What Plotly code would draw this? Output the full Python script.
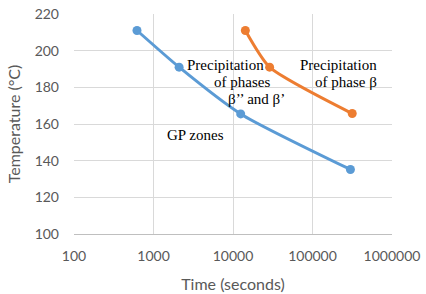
import plotly.graph_objects as go

time_gp = [620, 2100, 12500, 300000]
temp_gp = [211, 191, 165.5, 135.2]
time_beta = [14300, 28900, 316000]
temp_beta = [211, 191, 165.7]

x_ticks = [100, 1000, 10000, 100000, 1000000]
x_tick_labels = ["100", "1000", "10000", "100000", "1000000"]
y_ticks = [100, 120, 140, 160, 180, 200, 220]

blue = "#5B9BD5"
orange = "#ED7D31"

W, H = 426, 294
PL, PR, PT, PB = 74, 392, 13.5, 234


def px(x):
    return (x - PL) / (PR - PL)


def py(y):
    return 1 - (y - PT) / (PB - PT)


fig = go.Figure()
fig.add_trace(go.Scatter(x=time_gp, y=temp_gp, mode="lines+markers",
                         line=dict(color=blue, width=3, shape="spline", smoothing=0.6),
                         marker=dict(color=blue, size=9), showlegend=False))
fig.add_trace(go.Scatter(x=time_beta, y=temp_beta, mode="lines+markers",
                         line=dict(color=orange, width=3, shape="spline", smoothing=0.6),
                         marker=dict(color=orange, size=9), showlegend=False))

serif = dict(family="Liberation Serif", size=15, color="#000000")
labels = [
    ("Precipitation", 186, 65),
    ("of phases", 213, 82),
    ("β’’ and β’", 227, 99),
    ("Precipitation", 299, 65),
    ("of phase β", 314, 82),
    ("GP zones", 166, 135),
]
for txt, lx, ly in labels:
    fig.add_annotation(xref="paper", yref="paper", x=px(lx), y=py(ly), text=txt,
                       showarrow=False, font=serif, xanchor="left", yanchor="middle",
                       borderpad=0)

axis_font = dict(family="Lato", size=14, color="#595959")
title_font = dict(family="Lato", size=16, color="#595959")
fig.update_xaxes(type="log", range=[2, 6], tickvals=x_ticks, ticktext=x_tick_labels,
                 showgrid=True, gridcolor="#D9D9D9", gridwidth=1,
                 showline=True, linecolor="#BFBFBF", linewidth=1, zeroline=False,
                 tickfont=axis_font, ticks="", ticklabelstandoff=9, automargin=False,
                 title=dict(text="Time (seconds)", font=title_font, standoff=16))
fig.update_yaxes(range=[100, 220], tickvals=y_ticks,
                 showgrid=True, gridcolor="#D9D9D9", gridwidth=1,
                 showline=False, zeroline=False, automargin=False,
                 tickfont=axis_font, ticks="", ticklabelstandoff=14,
                 title=dict(text="Temperature (°C)", font=title_font, standoff=10))
fig.update_layout(width=W, height=H, plot_bgcolor="white", paper_bgcolor="white",
                  margin=dict(l=PL, r=W - PR, t=PT, b=H - PB))
fig.write_html("out.html", config={"displayModeBar": False},
               post_script="document.body.style.margin='0';document.body.style.overflow='hidden';")
